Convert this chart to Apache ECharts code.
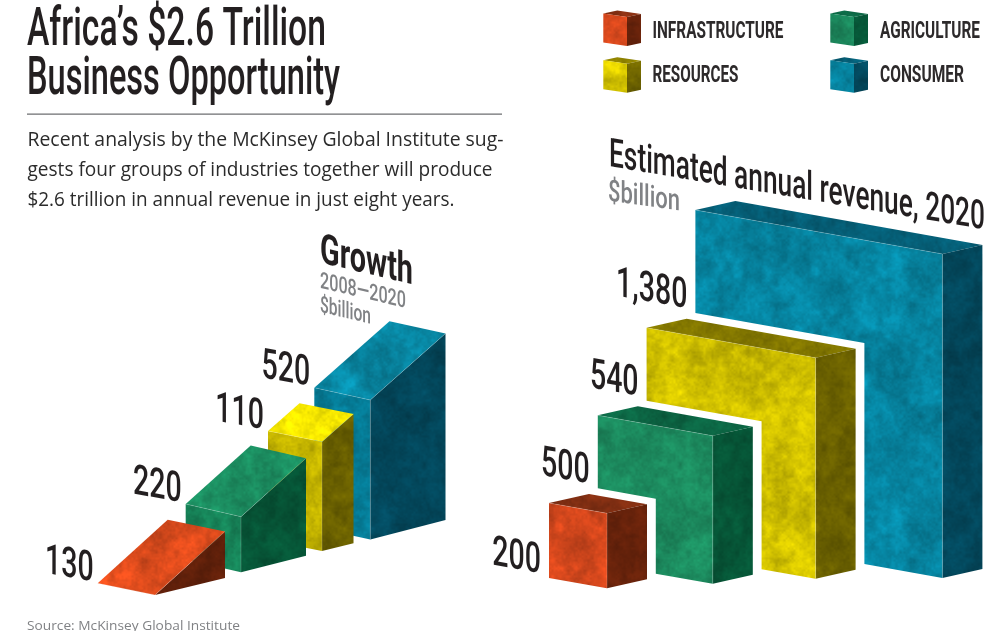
<!DOCTYPE html>
<html><head><meta charset="utf-8">
<style>html,body{margin:0;padding:0;background:#fff}#c{width:991px;height:631px}</style>
<script src="https://cdn.jsdelivr.net/npm/echarts@6/dist/echarts.min.js"></script>
</head><body><div id="c"></div>
<script>
// ---- chart values ----
const categories = ['Infrastructure', 'Agriculture', 'Resources', 'Consumer'];
const revenue2020 = [200, 500, 540, 1380];
const growth2008to2020 = [130, 220, 110, 520];
const legendLabels = ['INFRASTRUCTURE', 'AGRICULTURE', 'RESOURCES', 'CONSUMER'];

// ---- scales and layout ----
const revDomain = [0, 200, 700, 1240, 2620];     // cumulative revenue
const revHeightRange = [0, 75, 148, 221, 324];
const revWidthRange = [0, 58, 115, 169, 247];
const interp = (dom, rng, v) => {
  for (let k = 1; k < dom.length; k++) if (v <= dom[k] || k === dom.length - 1)
    return rng[k-1] + (v - dom[k-1]) / (dom[k] - dom[k-1]) * (rng[k] - rng[k-1]);
};
const R = { base: [549, 578], step: [48.8, -14.67], slope: 0.178, depth: [40, -9] };
const G = {
  corner: [[155,595],[241,572.3],[322,551],[370.3,539.5]],
  width:  [[57.3,11.7],[55.3,12.7],[54,10.7],[56,12.3]],
  depth:  [[70,-17],[65,-16.6],[31.5,-7.7],[75.2,-19.5]],
  front:  [0,55.6,109.3,139.5],
  risePerUnit: [0.358,0.19,0.182,0.0904]
};
const legendGeo = { cols:[603.3, 830.3], rows:[42.5, 89.2], a:[23.7,3.5], h:[0,-29], d:[14,-3],
                    textCols:[652.5, 880], textRows:[32, 76], textW:[131, 100, 86, 84] };
const INK = '#231f20', GREY = '#808285';
const palette = [
  { front:[208,70,28],  side:[96,32,10],  top:[128,46,18], gTop:[216,74,28], gFront:[208,70,28] },
  { front:[28,138,94],  side:[6,84,54],   top:[12,102,68], gTop:[28,144,98], gFront:[22,128,86] },
  { front:[208,192,0],  side:[106,96,0],  top:[134,122,0], gTop:[238,224,0], gFront:[196,180,0] },
  { front:[6,130,158],  side:[3,70,90],   top:[5,94,118],  gTop:[8,134,162], gFront:[5,120,146] }
];

// ---- mottled print texture (deterministic) ----
function noiseField(size, seed) {
  let s = seed;
  const rnd = () => (s = (s * 1664525 + 1013904223) >>> 0) / 4294967296;
  const out = new Float32Array(size * size);
  [[32,.5],[16,.6],[8,.55],[4,.4],[2,.3]].forEach(([p, amp]) => {
    const n = Math.round(size / p), g = new Float32Array(n * n).map(rnd);
    const sm = t => t * t * (3 - 2 * t);
    for (let y = 0; y < size; y++) for (let x = 0; x < size; x++) {
      const fx = x / p, fy = y / p, ix = Math.floor(fx), iy = Math.floor(fy);
      const tx = sm(fx - ix), ty = sm(fy - iy);
      const a = g[(iy % n) * n + ix % n], b = g[(iy % n) * n + (ix + 1) % n];
      const c = g[((iy + 1) % n) * n + ix % n], d = g[((iy + 1) % n) * n + (ix + 1) % n];
      out[y * size + x] += amp * ((a + (b - a) * tx) * (1 - ty) + (c + (d - c) * tx) * ty - .5);
    }
  });
  return out;
}
const SIZE = 256, field = noiseField(SIZE, 12345);
function texture(rgb) {
  const cv = document.createElement('canvas'); cv.width = cv.height = SIZE;
  const ctx = cv.getContext('2d'), img = ctx.createImageData(SIZE, SIZE);
  for (let i = 0; i < SIZE * SIZE; i++) {
    const f = 1 + .26 * field[i];
    img.data[i*4] = rgb[0]*f; img.data[i*4+1] = rgb[1]*f; img.data[i*4+2] = rgb[2]*f; img.data[i*4+3] = 255;
  }
  ctx.putImageData(img, 0, 0);
  return { image: cv, repeat: 'repeat' };
}
const tex = palette.map(p => Object.fromEntries(Object.keys(p).map(k => [k, texture(p[k])])));

// ---- text helpers ----
const mctx = document.createElement('canvas').getContext('2d');
const fitX = (txt, font, w) => { mctx.font = font; return w / mctx.measureText(txt).width; };
const NUM = '500 42px Roboto', NUM_SQUEEZE = .68;
// Text squeezed by a and sheared so its baseline falls by k per px while stems stay vertical.
// The 2x2 matrix [[a,0],[k*a,1]] is split into rotation * scale * rotation for group + text.
function shearedText(text, x, y, a, k, font, fill, align) {
  const A00 = a, A01 = 0, A10 = k * a, A11 = 1;
  const E = (A00 + A11) / 2, F = (A00 - A11) / 2, Gg = (A10 + A01) / 2, H = (A10 - A01) / 2;
  const Q = Math.hypot(E, H), Rr = Math.hypot(F, Gg);
  const a1 = Math.atan2(Gg, F), a2 = Math.atan2(H, E);
  return { type:'group', x, y, rotation:-(a2 + a1) / 2, scaleX:Q + Rr, scaleY:Q - Rr, silent:true, children:[
    { type:'text', rotation:-(a2 - a1) / 2, silent:true,
      style:{ text, font, fill, textAlign:align, textVerticalAlign:'middle' } }
  ]};
}
const BODY = '400 20px "Open Sans"', BODYC = '#2b2b2b', HEAD = '500 54px Roboto';
const staticText = [
  { t:'Africa\u2019s $2.6 Trillion', x:27, y:31, w:299, font:HEAD, fill:INK },
  { t:'Business Opportunity', x:27, y:80, w:313, font:HEAD, fill:INK },
  { t:'Recent analysis by the McKinsey Global Institute sug-', x:27.5, y:140.5, w:476, font:BODY, fill:BODYC },
  { t:'gests four groups of industries together will produce', x:27.5, y:170.5, w:465, font:BODY, fill:BODYC },
  { t:'$2.6 trillion in annual revenue in just eight years.', x:27.5, y:200.5, w:427, font:BODY, fill:BODYC },
  { t:'Source: McKinsey Global Institute', x:27, y:626, w:213, font:'400 13px "Open Sans"', fill:GREY }
];
const shearedStatic = [
  { t:'Estimated annual revenue, 2020', x:609, y:156, w:376, k:.168, font:'500 40px Roboto', fill:INK },
  { t:'$billion', x:608, y:193, w:72, k:.14, font:'500 30px Roboto', fill:GREY },
  { t:'Growth', x:320, y:252, w:93, k:.235, font:'700 42px Roboto', fill:INK },
  { t:'2008\u20142020', x:320, y:282, w:86, k:.235, font:'500 23px Roboto', fill:GREY },
  { t:'$billion', x:320, y:306, w:51, k:.235, font:'500 23px Roboto', fill:GREY }
];
legendLabels.forEach((t, i) => staticText.push({
  t, x:legendGeo.textCols[i & 1], y:legendGeo.textRows[i >> 1], w:legendGeo.textW[i], font:'700 23px Roboto', fill:'#2d2a2b'
}));

const poly = (pts, fill) => ({ type:'polygon', shape:{ points:pts }, style:{ fill }, silent:true });
const hair = pts => ({ type:'polyline', shape:{ points:pts }, style:{ fill:'none', stroke:'rgba(255,255,255,.3)', lineWidth:.6 }, silent:true });
const numLabel = (txt, x, y) => shearedText(txt, x, y, NUM_SQUEEZE, .175, NUM, INK, 'right');
const add = (p, v, k) => [p[0] + v[0] * (k === undefined ? 1 : k), p[1] + v[1] * (k === undefined ? 1 : k)];

// ---- revenue blocks: nested L-shapes ----
function renderRevenue(params, api) {
  const i = api.value(0), value = api.value(1);
  const cum = revenue2020.slice(0, i + 1).reduce((a, b) => a + b, 0), prev = cum - value;
  const H = interp(revDomain, revHeightRange, cum), W = interp(revDomain, revWidthRange, cum);
  const Hp = interp(revDomain, revHeightRange, prev), Wp = interp(revDomain, revWidthRange, prev);
  const O = add(R.base, R.step, i);
  const P = (u, h) => [O[0] + u, O[1] + R.slope * u - h];
  const c = p => api.coord(p), d = R.depth, t = tex[i];
  const front = Wp ? [P(0,H),P(W,H),P(W,0),P(Wp,0),P(Wp,Hp),P(0,Hp)] : [P(0,H),P(W,H),P(W,0),P(0,0)];
  const lab = add(P(0, Hp), [-8, -15.5]);
  return { type:'group', children:[
    poly([P(0,H),P(W,H),add(P(W,H),d),add(P(0,H),d)].map(c), t.top),
    poly([P(W,H),add(P(W,H),d),add(P(W,0),d),P(W,0)].map(c), t.side),
    poly(front.map(c), t.front),
    hair([P(0,H),P(W,H),P(W,0)].map(c)),
    numLabel(Number(value).toLocaleString('en-US'), ...c(lab))
  ]};
}

// ---- growth wedges: front height + rise towards the back ----
function renderGrowth(params, api) {
  const i = api.value(0), value = api.value(1);
  const C = G.corner[i], w = [-G.width[i][0], -G.width[i][1]], d = G.depth[i];
  const h = G.front[i], rise = value * G.risePerUnit[i], t = tex[i];
  const up = (p, k) => [p[0], p[1] - k], c = p => api.coord(p);
  const L = add(C, w), B = add(C, d), FT = up(C, h), LT = up(L, h), BT = up(B, h + rise), BLT = add(BT, w);
  return { type:'group', children:[
    poly([LT,FT,C,L].map(c), t.gFront),
    poly([C,B,BT,FT].map(c), t.side),
    poly([LT,FT,BT,BLT].map(c), t.gTop),
    hair([LT,FT,BT].map(c)), hair([FT,C].map(c)),
    numLabel(String(value), ...c(add(LT, [-4, -12.5])))
  ]};
}

// ---- legend cubes ----
function renderCube(params, api) {
  const i = api.value(0), c = p => api.coord(p), t = tex[i], g = legendGeo;
  const O = [g.cols[i & 1], g.rows[i >> 1]];
  const F = add(O, g.a), FT = add(F, g.h), LT = add(O, g.h);
  return { type:'group', children:[
    poly([LT,FT,add(FT,g.d),add(LT,g.d)].map(c), t.top),
    poly([FT,add(FT,g.d),add(F,g.d),F].map(c), t.side),
    poly([LT,FT,F,O].map(c), t.front)
  ]};
}
const order = [3, 2, 1, 0];

const chart = echarts.init(document.getElementById('c'), null, { renderer:'canvas' });
chart.setOption({
  animation:false,
  backgroundColor:'#fff',
  grid:{ left:0, right:0, top:0, bottom:0 },
  xAxis:{ type:'value', min:0, max:991, show:false },
  yAxis:{ type:'value', min:0, max:631, inverse:true, show:false },
  tooltip:{ show:false },
  graphic: staticText.map(s => ({
    type:'text', x:s.x, y:s.y, scaleX:fitX(s.t, s.font, s.w), silent:true,
    style:{ text:s.t, font:s.font, fill:s.fill, textAlign:'left', textVerticalAlign:'middle' }
  })).concat(shearedStatic.map(s => shearedText(s.t, s.x, s.y, fitX(s.t, s.font, s.w), s.k, s.font, s.fill, 'left')))
    .concat([{ type:'rect', shape:{ x:27, y:113.4, width:475, height:1.4 }, style:{ fill:'#6d6e70' }, silent:true }]),
  series:[
    { name:'Estimated annual revenue, 2020', type:'custom', renderItem:renderRevenue, clip:false,
      data:order.map(i => [i, revenue2020[i]]), encode:{ x:0, y:1 } },
    { name:'Growth 2008-2020', type:'custom', renderItem:renderGrowth, clip:false,
      data:order.map(i => [i, growth2008to2020[i]]), encode:{ x:0, y:1 } },
    { name:'Legend', type:'custom', renderItem:renderCube, clip:false,
      data:categories.map((c, i) => [i, 0]), encode:{ x:0, y:1 } }
  ]
});
</script></body></html>
